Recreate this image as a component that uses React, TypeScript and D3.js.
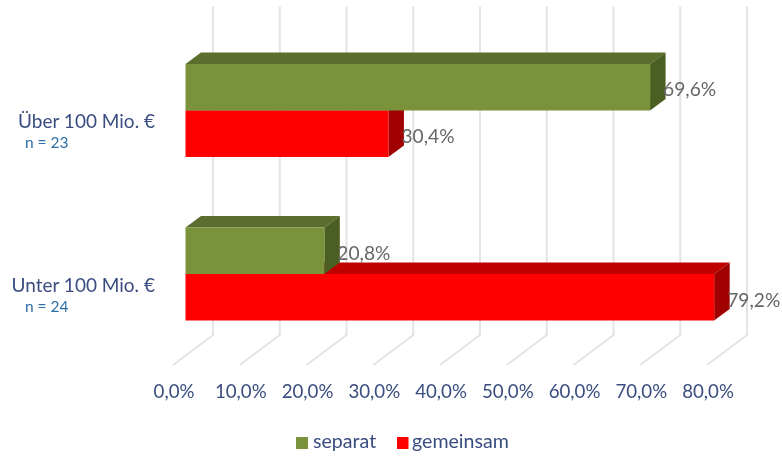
import React from "react";
import * as d3 from "d3";

const categories = ["Über 100 Mio. €", "Unter 100 Mio. €"];
const sampleSizes = ["n = 23", "n = 24"];
const seriesNames = ["separat", "gemeinsam"];
const separat = [69.6, 20.8];
const gemeinsam = [30.4, 79.2];
const ticks = [0, 10, 20, 30, 40, 50, 60, 70, 80];
const colors = {
  separat: { front: "#7a933b", top: "#5c6e2e", side: "#4c5e24" },
  gemeinsam: { front: "#ff0000", top: "#c00000", side: "#a00000" },
};

const fmt = (v: number) => v.toFixed(1).replace(".", ",") + "%";
const FONT = "Lato, 'Noto Sans', sans-serif";

export default function App() {
  const x = d3.scaleLinear().domain([0, 80]).range([185.5, 719.5]);
  // depth offset of bars and of the floor
  const dx = 15.5, dy = -11.5;
  const gx = 27.5, floorTop = 335, floorDx = -40, floorDy = 30, wallTop = 6.5;
  const bandH = 46.5;
  const y0 = d3.scalePoint().domain(categories).range([64, 227.5]);

  const bar = (v: number, top: number, c: { front: string; top: string; side: string }, k: string) => {
    const x0 = x(0), x1 = x(v), b = top + bandH;
    return (
      <g key={k}>
        <path d={`M${x0},${top}L${x0 + dx},${top + dy}L${x1 + dx},${top + dy}L${x1},${top}Z`} fill={c.top} />
        <path d={`M${x1},${top}L${x1 + dx},${top + dy}L${x1 + dx},${b + dy}L${x1},${b}Z`} fill={c.side} />
        <rect x={x0} y={top} width={x1 - x0} height={bandH} fill={c.front} />
      </g>
    );
  };

  return (
    <svg width={782} height={456} style={{ position: "absolute", left: 0, top: 0, background: "#fff" }} fontFamily={FONT}>
      <defs>
        <filter id="soft" x="0" y="0" width="100%" height="100%">
          <feGaussianBlur stdDeviation="0.5" />
        </filter>
      </defs>
      <g filter="url(#soft)">
        {ticks.map((t) => (
          <path
            key={t}
            d={`M${x(t) + gx},${wallTop}V${floorTop}l${floorDx},${floorDy}`}
            fill="none"
            stroke="#e4e4e4"
            strokeWidth={2}
          />
        ))}
        {categories.map((c, i) => {
          const t = y0(c)!;
          return (
            <g key={c}>
              {bar(gemeinsam[i], t + bandH, colors.gemeinsam, "g")}
              {bar(separat[i], t, colors.separat, "s")}
            </g>
          );
        })}
        {categories.map((c, i) => {
          const t = y0(c)!;
          return (
            <g key={c} fontSize={19.2} fill="#666666">
              <text x={x(separat[i]) + 13} y={t + 32}>{fmt(separat[i])}</text>
              <text x={x(gemeinsam[i]) + 13} y={t + 79}>{fmt(gemeinsam[i])}</text>
            </g>
          );
        })}
        {categories.map((c, i) => {
          const t = y0(c)!;
          return (
            <g key={c}>
              <text x={155} y={t + 64} textAnchor="end" fontSize={19} fill="#3a4d80">{c}</text>
              <text x={25} y={t + 84} fontSize={15.5} fill="#2f6ea5">{sampleSizes[i]}</text>
            </g>
          );
        })}
        {ticks.map((t) => (
          <text key={t} x={x(t) - 11.5} y={398} textAnchor="middle" fontSize={18.7} fill="#3a4d80">{fmt(t)}</text>
        ))}
        <rect x={296} y={437} width={12} height={12} fill={colors.separat.front} />
        <text x={313} y={448} fontSize={19.6} fill="#3a4d80">{seriesNames[0]}</text>
        <rect x={397} y={437} width={11.5} height={12} fill={colors.gemeinsam.front} />
        <text x={412} y={448} fontSize={19.6} fill="#3a4d80">{seriesNames[1]}</text>
      </g>
    </svg>
  );
}
